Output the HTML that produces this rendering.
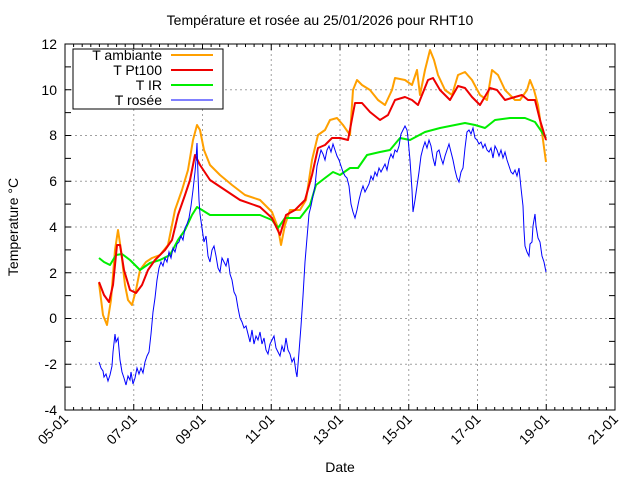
<!DOCTYPE html>
<html><head><meta charset="utf-8"><style>
html,body{margin:0;padding:0;background:#fff}
svg{display:block;font-family:"Liberation Sans",sans-serif}
</style></head><body>
<svg width="640" height="480" viewBox="0 0 640 480" xmlns="http://www.w3.org/2000/svg">
<rect width="640" height="480" fill="#fff"/>
<g stroke="#a0a0a0" stroke-width="1" stroke-dasharray="2,3">
<line x1="65" x2="615" y1="364.3" y2="364.3"/>
<line x1="65" x2="615" y1="318.5" y2="318.5"/>
<line x1="65" x2="615" y1="272.8" y2="272.8"/>
<line x1="65" x2="615" y1="227" y2="227"/>
<line x1="65" x2="615" y1="181.3" y2="181.3"/>
<line x1="65" x2="615" y1="135.5" y2="135.5"/>
<line x1="65" x2="615" y1="89.8" y2="89.8"/>
<line y1="44" y2="410" x1="133.75" x2="133.75"/>
<line y1="44" y2="410" x1="202.5" x2="202.5"/>
<line y1="44" y2="410" x1="271.25" x2="271.25"/>
<line y1="44" y2="410" x1="340" x2="340"/>
<line y1="44" y2="410" x1="408.75" x2="408.75"/>
<line y1="44" y2="410" x1="477.5" x2="477.5"/>
<line y1="44" y2="410" x1="546.25" x2="546.25"/>
</g>
<path stroke="#000" stroke-width="1" fill="none" d="
M133.75 410v-6M202.5 410v-6M271.25 410v-6M340 410v-6M408.75 410v-6M477.5 410v-6M546.25 410v-6
M133.75 44v6M202.5 44v6M271.25 44v6M340 44v6M408.75 44v6M477.5 44v6M546.25 44v6
M73.6 410v-3M82.2 410v-3M90.8 410v-3M99.4 410v-3M108 410v-3M116.6 410v-3M125.2 410v-3
M142.3 410v-3M150.9 410v-3M159.5 410v-3M168.1 410v-3M176.7 410v-3M185.3 410v-3M193.9 410v-3
M211.1 410v-3M219.7 410v-3M228.3 410v-3M236.9 410v-3M245.5 410v-3M254.1 410v-3M262.7 410v-3
M279.8 410v-3M288.4 410v-3M297 410v-3M305.6 410v-3M314.2 410v-3M322.8 410v-3M331.4 410v-3
M348.6 410v-3M357.2 410v-3M365.8 410v-3M374.4 410v-3M383 410v-3M391.6 410v-3M400.2 410v-3
M417.3 410v-3M425.9 410v-3M434.5 410v-3M443.1 410v-3M451.7 410v-3M460.3 410v-3M468.9 410v-3
M486.1 410v-3M494.7 410v-3M503.3 410v-3M511.9 410v-3M520.5 410v-3M529.1 410v-3M537.7 410v-3
M554.8 410v-3M563.4 410v-3M572 410v-3M580.6 410v-3M589.2 410v-3M597.8 410v-3M606.4 410v-3
M73.6 44v3M82.2 44v3M90.8 44v3M99.4 44v3M108 44v3M116.6 44v3M125.2 44v3
M142.3 44v3M150.9 44v3M159.5 44v3M168.1 44v3M176.7 44v3M185.3 44v3M193.9 44v3
M211.1 44v3M219.7 44v3M228.3 44v3M236.9 44v3M245.5 44v3M254.1 44v3M262.7 44v3
M279.8 44v3M288.4 44v3M297 44v3M305.6 44v3M314.2 44v3M322.8 44v3M331.4 44v3
M348.6 44v3M357.2 44v3M365.8 44v3M374.4 44v3M383 44v3M391.6 44v3M400.2 44v3
M417.3 44v3M425.9 44v3M434.5 44v3M443.1 44v3M451.7 44v3M460.3 44v3M468.9 44v3
M486.1 44v3M494.7 44v3M503.3 44v3M511.9 44v3M520.5 44v3M529.1 44v3M537.7 44v3
M554.8 44v3M563.4 44v3M572 44v3M580.6 44v3M589.2 44v3M597.8 44v3M606.4 44v3
M65 387.1h6M65 364.3h6M65 341.4h6M65 318.5h6M65 295.6h6M65 272.8h6M65 249.9h6M65 227h6M65 204.1h6M65 181.3h6M65 158.4h6M65 135.5h6M65 112.6h6M65 89.8h6M65 66.9h6
M615 387.1h-6M615 364.3h-6M615 341.4h-6M615 318.5h-6M615 295.6h-6M615 272.8h-6M615 249.9h-6M615 227h-6M615 204.1h-6M615 181.3h-6M615 158.4h-6M615 135.5h-6M615 112.6h-6M615 89.8h-6M615 66.9h-6"/>
<g font-size="14" text-anchor="end" fill="#000">
<text x="57" y="415">-4</text><text x="57" y="369">-2</text><text x="57" y="323">0</text>
<text x="57" y="278">2</text><text x="57" y="232">4</text><text x="57" y="186">6</text>
<text x="57" y="140">8</text><text x="57" y="95">10</text><text x="57" y="49">12</text>
</g>
<g font-size="14" text-anchor="end" fill="#000">
<text transform="translate(69,420) rotate(-45)">05-01</text>
<text transform="translate(137.75,420) rotate(-45)">07-01</text>
<text transform="translate(206.5,420) rotate(-45)">09-01</text>
<text transform="translate(275.25,420) rotate(-45)">11-01</text>
<text transform="translate(344,420) rotate(-45)">13-01</text>
<text transform="translate(412.75,420) rotate(-45)">15-01</text>
<text transform="translate(481.5,420) rotate(-45)">17-01</text>
<text transform="translate(550.25,420) rotate(-45)">19-01</text>
<text transform="translate(619,420) rotate(-45)">21-01</text>
</g>
<text x="320" y="25" font-size="14" text-anchor="middle">Température et rosée au 25/01/2026 pour RHT10</text>
<text x="340" y="472" font-size="14" text-anchor="middle">Date</text>
<text transform="translate(18,227) rotate(-90)" font-size="14" text-anchor="middle">Temperature °C</text>
<g fill="none" stroke-width="2" stroke-linejoin="round">
<polyline stroke="#ffa000" points="99,283 103,315 107,325 111,300 115,250 118,230 121,250 125,285 128,300 132,305 136,290 140,270 146,262 152,258 160,255 168,245 175,210 182,190 188,170 193,140 197,125 200,130 204,150 210,165 220,175 232,185 245,195 260,200 272,212 278,228 281,245 285,225 290,210 300,210 306,200 312,160 318,135 325,130 330,120 337,118 343,125 350,135 353,90 357,80 362,85 370,90 378,100 385,105 392,90 395,78 405,80 412,85 417,70 420,95 425,70 430,50 434,60 438,75 445,90 452,95 458,75 465,72 472,80 480,95 487,100 492,70 498,75 505,90 510,95 515,100 520,100 527,90 530,80 534,90 538,105 543,140 546,162"/>
<polyline stroke="#00ee00" points="99,258 104,262 110,265 116,255 122,254 130,260 140,270 150,263 160,260 170,255 178,240 185,230 192,215 197,207 202,210 210,215 230,215 260,215 272,220 278,228 285,218 300,218 310,205 316,185 325,178 333,172 340,175 350,168 358,168 367,155 380,152 390,150 400,138 410,140 425,132 440,128 455,125 465,123 475,125 485,128 495,120 510,118 525,118 535,122 546,138"/>
<polyline stroke="#ee0000" points="99,282 104,295 109,302 113,285 117,245 120,245 124,270 130,290 136,293 142,285 148,270 155,260 165,250 172,240 178,215 185,195 190,180 195,155 200,165 210,180 225,190 240,200 260,207 272,218 280,235 286,215 295,210 305,200 312,175 318,148 325,145 332,138 340,138 348,140 355,103 362,103 370,112 380,120 388,115 395,100 405,97 412,100 418,105 422,95 428,80 433,78 440,90 450,100 458,86 465,88 472,97 480,105 490,88 497,90 505,100 515,97 522,95 528,100 535,100 540,120 546,140"/>
</g>
<polyline fill="none" stroke="#0000ff" stroke-width="1" points="99,362 101,368 103,371 104,377 106,374 108,381 110,375 112,366 113,352 115,334 116,342 118,338 120,360 122,372 124,378 126,385 128,376 130,380 131,372 133,384 135,378 137,368 139,374 141,368 143,373 145,362 147,356 149,352 151,334 153,312 155,298 157,280 159,268 161,262 163,266 165,258 167,262 169,252 171,258 173,248 175,252 177,244 179,242 181,236 183,240 185,228 187,224 189,218 191,206 193,190 195,172 196,160 197,143 198,175 199,200 200,214 202,228 204,242 206,236 208,256 210,262 212,250 214,246 216,256 218,268 220,272 222,258 224,262 226,266 228,258 230,274 232,280 234,292 236,296 238,308 240,318 242,322 244,328 246,326 248,334 250,342 252,330 254,344 256,336 258,340 260,332 262,344 264,338 266,350 268,354 270,344 272,340 274,336 276,348 278,352 280,356 282,346 284,352 286,338 288,350 290,354 292,362 294,358 296,372 297,377 299,352 301,326 303,296 305,262 307,238 309,214 311,206 313,196 315,186 317,166 319,158 321,150 323,154 325,160 327,150 329,146 331,152 333,144 335,150 337,156 339,160 341,166 343,172 345,176 347,178 349,186 351,204 353,212 355,218 357,210 359,200 361,192 363,186 365,192 367,188 369,184 371,176 373,180 375,172 377,176 379,168 381,172 383,168 385,164 387,170 389,160 391,154 393,158 395,150 397,152 399,146 401,134 403,130 405,126 407,130 408,138 410,160 412,190 413,212 415,200 417,186 419,172 421,156 423,148 425,142 427,148 429,140 431,146 433,158 435,166 437,152 439,150 441,158 443,164 445,156 447,150 449,144 451,152 453,160 455,170 457,178 459,182 461,172 463,168 465,148 467,132 469,130 471,134 473,128 475,138 477,140 479,144 481,142 483,148 485,144 487,150 489,152 491,148 493,158 495,146 497,150 499,156 501,150 503,158 505,152 507,160 509,166 511,172 513,174 515,170 517,176 519,168 521,188 523,206 524,230 525,246 527,252 529,256 530,244 532,242 533,226 535,214 536,226 538,238 540,242 542,256 544,262 546,272"/>
<rect x="65" y="44" width="550" height="366" fill="none" stroke="#000" stroke-width="1"/>
<rect x="73" y="49" width="150" height="60" fill="#fff" stroke="#000" stroke-width="1"/>
<g font-size="14" text-anchor="end">
<text x="162" y="60">T ambiante</text><text x="162" y="75">T Pt100</text>
<text x="162" y="90">T IR</text><text x="162" y="105">T rosée</text>
</g>
<line x1="171" x2="213" y1="55" y2="55" stroke="#ffa000" stroke-width="2"/>
<line x1="171" x2="213" y1="70" y2="70" stroke="#ee0000" stroke-width="2"/>
<line x1="171" x2="213" y1="85" y2="85" stroke="#00ee00" stroke-width="2"/>
<line x1="171" x2="213" y1="100" y2="100" stroke="#0000ff" stroke-width="1"/>
</svg>
</body></html>
